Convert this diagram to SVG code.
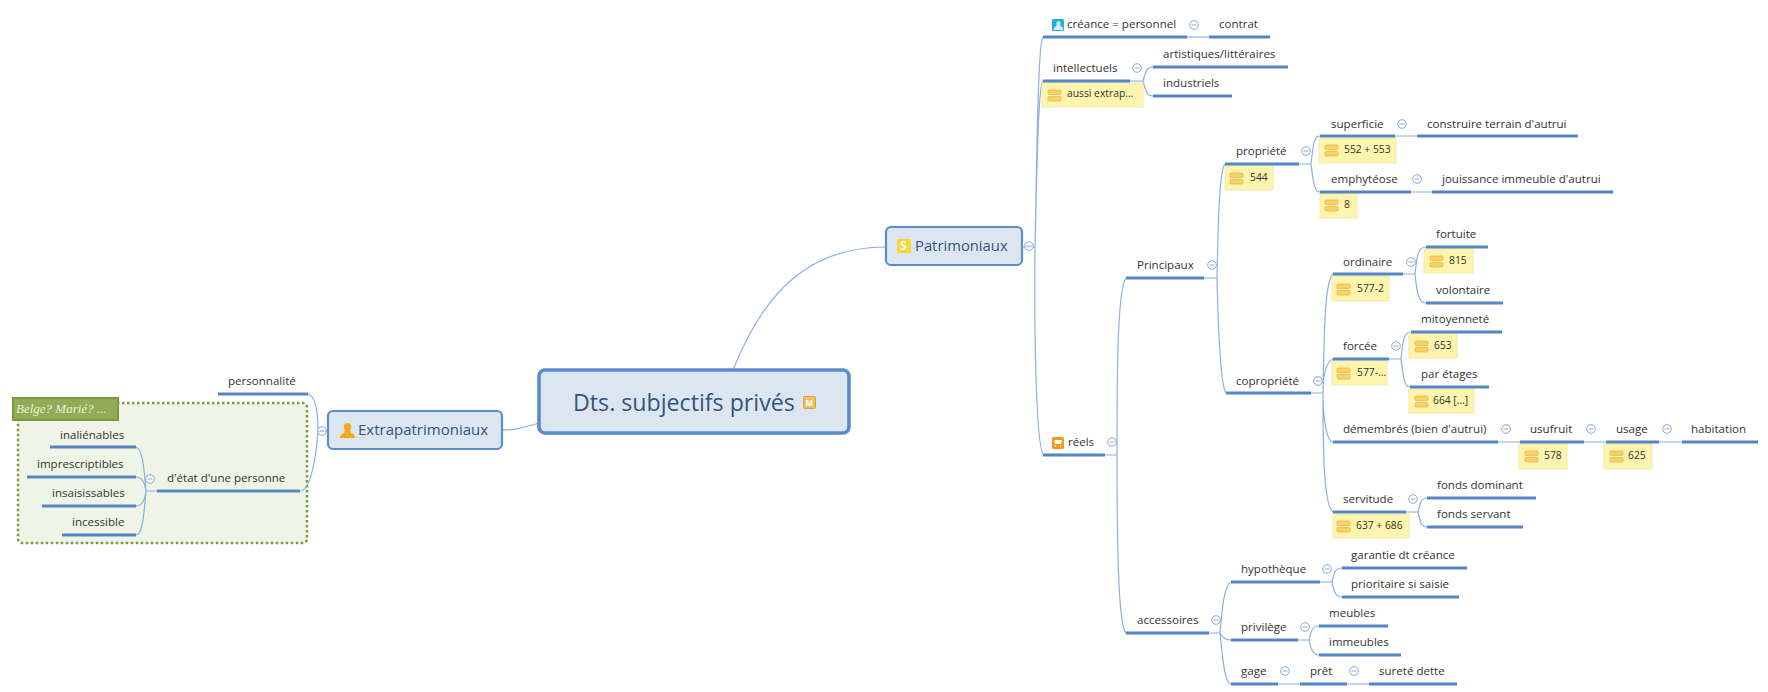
<svg xmlns="http://www.w3.org/2000/svg" width="1768" height="692" viewBox="0 0 1768 692">
<style>
text{font-family:"Open Sans","DejaVu Sans",sans-serif;font-size:11.55px;fill:#333;transform:translateY(-.6px)}
.u{stroke:#5585c8;stroke-width:3;fill:none}
.c{stroke:#8ab0e0;stroke-width:1.2;fill:none}
.n{fill:#fdf5ae;stroke:#f3e9a8;stroke-width:1}
.s{font-size:10.3px}
.b{fill:#dce6f1;stroke:#5a8bcb}
.t{fill:#34557f}
</style>
<defs>
<g id="minus"><circle r="4.3" fill="#fff" fill-opacity=".6" stroke="#8aa8d2" stroke-width="1"/><path d="M-2.4 0H2.4" stroke="#8aa8d2" stroke-width="1"/></g>
<g id="ni"><rect width="13" height="4.500" rx="1" fill="#f7d264" stroke="#e8b84e" stroke-width=".8"/><rect y="6.500" width="13" height="4.500" rx="1" fill="#f7d264" stroke="#e8b84e" stroke-width=".8"/></g>
</defs>
<rect id="canvas" width="1768" height="692" fill="#fff"/>
<g id="boundary">
<rect x="18" y="403" width="289" height="140" rx="4" fill="#eff5e6" stroke="#7d9a3e" stroke-width="2.5" stroke-dasharray="2.5 2.5"/>
<rect x="13" y="398" width="105" height="22" fill="#93ab57" stroke="#7a9a40" stroke-width="2"/>
<text x="16" y="414" style="font-family:'Liberation Serif',serif;font-style:italic;font-size:13px;fill:#e8efd8">Belge? Marié? ...</text>
</g>
<g id="connectors" class="c">
<path d="M733 370C765 290 810 247 886 247"/>
<path d="M539 423C522 428 515 430 502 430"/>
<path d="M1022 247H1035M1035 247C1037 150 1038 42 1043 37M1035 247C1037 170 1038 86 1043 81M1035 247C1034 330 1036 452 1044 455"/>
<path d="M1187 37H1209"/>
<path d="M1130 81H1143M1143 81C1146 70 1147 67 1153 67M1143 81C1146 92 1147 96 1153 96"/>
<path d="M1105 455H1117M1117 455C1117 380 1117 290 1126 278M1117 455C1117 540 1118 625 1126 633"/>
<path d="M1204 278H1217M1217 278C1218 230 1219 170 1225 164M1217 278C1218 320 1220 385 1226 393"/>
<path d="M1299 164H1311M1311 164C1313 145 1314 136 1320 136M1311 164C1313 180 1314 192 1320 192"/>
<path d="M1395 136H1417M1411 192H1432"/>
<path d="M1311 393H1323M1323 393C1324 330 1325 280 1333 274M1323 393C1323 375 1326 362 1333 359M1323 393C1323 420 1327 442 1333 442M1323 393C1323 440 1323 505 1333 512"/>
<path d="M1403 274H1415M1415 274C1417 255 1418 247 1426 247M1415 274C1417 292 1418 303 1426 303"/>
<path d="M1389 359H1401M1401 359C1403 340 1404 332 1411 332M1401 359C1403 375 1404 387 1410 387"/>
<path d="M1498 442H1520M1584 442H1606M1659 442H1682"/>
<path d="M1406 512H1418M1418 512C1420 503 1421 498 1427 498M1418 512C1420 521 1421 527 1427 527"/>
<path d="M1209 633H1220M1220 633C1222 610 1224 585 1231 582M1220 633C1222 636 1224 640 1231 640M1220 633C1222 650 1224 684 1231 684"/>
<path d="M1320 582H1332M1332 582C1334 573 1335 568 1342 568M1332 582C1334 591 1335 597 1342 597"/>
<path d="M1298 640H1309M1309 640C1311 632 1312 626 1319 626M1309 640C1311 648 1312 655 1319 655"/>
<path d="M1278 684H1300M1347 684H1369"/>
<path d="M328 431H318M318 431C318 410 315 396 308 394M318 431C316 460 310 491 300 491"/>
<path d="M157 491H146M146 491C144 470 143 449 136 447M146 491C145 484 143 477 136 477M146 491C145 498 143 506 136 506M146 491C144 512 143 535 136 535"/>
</g>
<g id="root"><rect class="b" x="539" y="370" width="310" height="63" rx="6" stroke-width="3.6"/><text class="t" x="573" y="412" style="font-size:23.2px;font-weight:500">Dts. subjectifs privés</text><rect x="803.500" y="396.500" width="12" height="12" rx="1" fill="#edc05a" stroke="#d9a53e"/><text x="805.500" y="406.500" style="font-size:8px;font-weight:700;fill:#fff">M</text></g>
<g id="patrimoniaux"><rect class="b" x="886" y="227" width="136" height="38" rx="5" stroke-width="2.2"/><rect x="897" y="239" width="14" height="14" rx="1" fill="#f6d639"/><text x="900" y="251" style="font-size:12px;font-weight:700;fill:#fff">S</text><text class="t" x="915" y="252" style="font-size:14.8px">Patrimoniaux</text><use href="#minus" x="1029" y="246"/></g>
<g id="extrapatrimoniaux"><rect class="b" x="328" y="411" width="174" height="38" rx="5" stroke-width="2.2"/><path d="M347 423a4 4 0 0 1 3 7l1 3q4 1 4 5h-15q0-4 4-5l1-3a4 4 0 0 1 2-7z" fill="#f5ab14"/><text class="t" x="358" y="436" style="font-size:15px">Extrapatrimoniaux</text><use href="#minus" x="322" y="431"/></g>
<g id="personnalite"><path class="u" d="M218 394H308"/><text x="228" y="386">personnalité</text></g>
<g id="etat"><path class="u" d="M157 491H300"/><text x="167" y="483">d'état d'une personne</text><use href="#minus" x="150" y="479"/></g>
<g id="inalienables"><path class="u" d="M50 447H136"/><text x="60" y="440">inaliénables</text></g>
<g id="imprescriptibles"><path class="u" d="M27 477H136"/><text x="37" y="469">imprescriptibles</text></g>
<g id="insaisissables"><path class="u" d="M42 506H136"/><text x="52" y="498">insaisissables</text></g>
<g id="incessible"><path class="u" d="M62 535H136"/><text x="72" y="527">incessible</text></g>
<g id="creance"><path class="u" d="M1043 37H1187"/><rect x="1052" y="19" width="12" height="12" rx="1.500" fill="#28abe8"/><path d="M1058 21a2.500 2.500 0 0 1 2 4l3 3v2h-9v-2l3-3a2.500 2.500 0 0 1 1-4z" fill="#d5f0fb"/><text x="1067" y="29">créance = personnel</text><use href="#minus" x="1194" y="25"/></g>
<g id="contrat"><path class="u" d="M1209 37H1270"/><text x="1219" y="29">contrat</text></g>
<g id="intellectuels"><rect class="n" x="1042" y="83" width="101" height="24"/><use href="#ni" x="1048" y="90"/><text class="s" x="1067" y="98">aussi extrap...</text><path class="u" d="M1043 81H1130"/><text x="1053" y="73">intellectuels</text><use href="#minus" x="1137" y="68"/></g>
<g id="artistiques"><path class="u" d="M1153 67H1288"/><text x="1163" y="59">artistiques/littéraires</text></g>
<g id="industriels"><path class="u" d="M1153 96H1232"/><text x="1163" y="88">industriels</text></g>
<g id="reels"><path class="u" d="M1043 455H1105"/><rect x="1052" y="437" width="12" height="12" rx="1.500" fill="#f29a1f"/><path d="M1054 440h8l-1 4h-6zM1055 445h1v2h-1zM1060 445h1v2h-1z" fill="#fff"/><text x="1068" y="447">réels</text><use href="#minus" x="1112" y="442"/></g>
<g id="principaux"><path class="u" d="M1126 278H1204"/><text x="1137" y="270">Principaux</text><use href="#minus" x="1212" y="265"/></g>
<g id="propriete"><rect class="n" x="1225" y="166" width="48" height="24"/><use href="#ni" x="1230" y="173"/><text class="s" x="1250" y="182">544</text><path class="u" d="M1225 164H1299"/><text x="1236" y="156">propriété</text><use href="#minus" x="1306" y="151"/></g>
<g id="superficie"><rect class="n" x="1319" y="138" width="77" height="25"/><use href="#ni" x="1325" y="145"/><text class="s" x="1344" y="154">552 + 553</text><path class="u" d="M1320 136H1395"/><text x="1331" y="129">superficie</text><use href="#minus" x="1402" y="124"/></g>
<g id="construire"><path class="u" d="M1417 136H1578"/><text x="1427" y="129">construire terrain d'autrui</text></g>
<g id="emphyteose"><rect class="n" x="1320" y="193" width="37" height="25"/><use href="#ni" x="1325" y="200"/><text class="s" x="1344" y="209">8</text><path class="u" d="M1320 192H1411"/><text x="1331" y="184">emphytéose</text><use href="#minus" x="1417" y="179"/></g>
<g id="jouissance"><path class="u" d="M1432 192H1613"/><text x="1442" y="184">jouissance immeuble d'autrui</text></g>
<g id="copropriete"><path class="u" d="M1226 393H1311"/><text x="1236" y="386">copropriété</text><use href="#minus" x="1318" y="381"/></g>
<g id="ordinaire"><rect class="n" x="1332" y="276" width="57" height="25"/><use href="#ni" x="1337" y="284"/><text class="s" x="1357" y="293">577-2</text><path class="u" d="M1333 274H1403"/><text x="1343" y="267">ordinaire</text><use href="#minus" x="1411" y="262"/></g>
<g id="fortuite"><rect class="n" x="1424" y="249" width="49" height="24"/><use href="#ni" x="1430" y="256"/><text class="s" x="1449" y="265">815</text><path class="u" d="M1426 247H1488"/><text x="1436" y="239">fortuite</text></g>
<g id="volontaire"><path class="u" d="M1426 303H1503"/><text x="1436" y="295">volontaire</text></g>
<g id="forcee"><rect class="n" x="1332" y="361" width="55" height="24"/><use href="#ni" x="1337" y="368"/><text class="s" x="1357" y="377">577-...</text><path class="u" d="M1333 359H1389"/><text x="1343" y="351">forcée</text><use href="#minus" x="1396" y="346"/></g>
<g id="mitoyennete"><rect class="n" x="1409" y="333" width="48" height="25"/><use href="#ni" x="1415" y="341"/><text class="s" x="1434" y="350">653</text><path class="u" d="M1411 332H1502"/><text x="1421" y="324">mitoyenneté</text></g>
<g id="etages"><rect class="n" x="1409" y="389" width="65" height="24"/><use href="#ni" x="1415" y="396"/><text class="s" x="1433" y="405">664 [...]</text><path class="u" d="M1410 387H1489"/><text x="1421" y="379">par étages</text></g>
<g id="demembres"><path class="u" d="M1333 442H1498"/><text x="1343" y="434">démembrés (bien d'autrui)</text><use href="#minus" x="1506" y="429"/></g>
<g id="usufruit"><rect class="n" x="1519" y="444" width="48" height="25"/><use href="#ni" x="1525" y="451"/><text class="s" x="1544" y="460">578</text><path class="u" d="M1520 442H1584"/><text x="1530" y="434">usufruit</text><use href="#minus" x="1591" y="429"/></g>
<g id="usage"><rect class="n" x="1604" y="444" width="48" height="25"/><use href="#ni" x="1610" y="451"/><text class="s" x="1628" y="460">625</text><path class="u" d="M1606 442H1659"/><text x="1616" y="434">usage</text><use href="#minus" x="1667" y="429"/></g>
<g id="habitation"><path class="u" d="M1682 442H1758"/><text x="1691" y="434">habitation</text></g>
<g id="servitude"><rect class="n" x="1333" y="514" width="76" height="24"/><use href="#ni" x="1337" y="521"/><text class="s" x="1356" y="530">637 + 686</text><path class="u" d="M1333 512H1406"/><text x="1343" y="504">servitude</text><use href="#minus" x="1413" y="499"/></g>
<g id="dominant"><path class="u" d="M1427 498H1536"/><text x="1437" y="490">fonds dominant</text></g>
<g id="servant"><path class="u" d="M1427 527H1523"/><text x="1437" y="519">fonds servant</text></g>
<g id="accessoires"><path class="u" d="M1126 633H1209"/><text x="1137" y="625">accessoires</text><use href="#minus" x="1216" y="620"/></g>
<g id="hypotheque"><path class="u" d="M1231 582H1320"/><text x="1241" y="574">hypothèque</text><use href="#minus" x="1327" y="569"/></g>
<g id="garantie"><path class="u" d="M1342 568H1467"/><text x="1351" y="560">garantie dt créance</text></g>
<g id="prioritaire"><path class="u" d="M1342 597H1459"/><text x="1351" y="589">prioritaire si saisie</text></g>
<g id="privilege"><path class="u" d="M1231 640H1298"/><text x="1241" y="632">privilège</text><use href="#minus" x="1305" y="627"/></g>
<g id="meubles"><path class="u" d="M1319 626H1388"/><text x="1329" y="618">meubles</text></g>
<g id="immeubles"><path class="u" d="M1319 655H1401"/><text x="1329" y="647">immeubles</text></g>
<g id="gage"><path class="u" d="M1231 684H1278"/><text x="1241" y="676">gage</text><use href="#minus" x="1285" y="671"/></g>
<g id="pret"><path class="u" d="M1300 684H1347"/><text x="1310" y="676">prêt</text><use href="#minus" x="1354" y="671"/></g>
<g id="surete"><path class="u" d="M1369 684H1457"/><text x="1379" y="676">sureté dette</text></g>
</svg>
